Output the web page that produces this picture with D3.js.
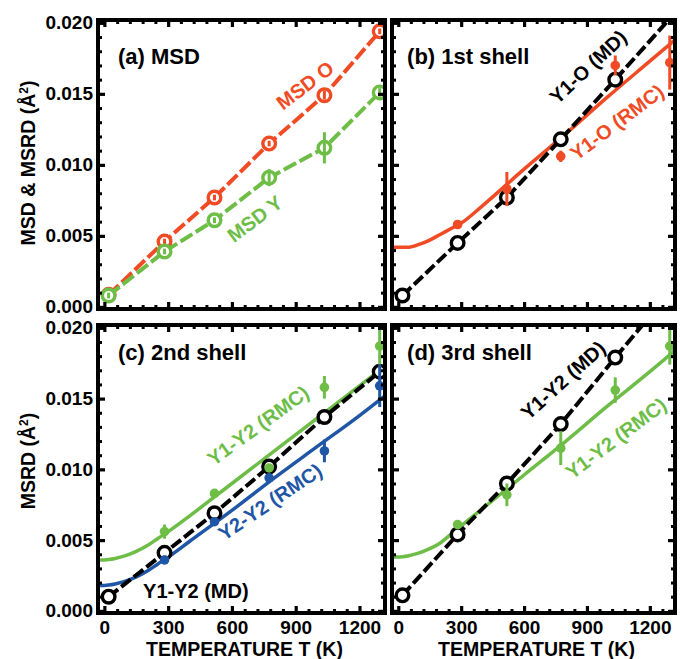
<!DOCTYPE html>
<html>
<head>
<meta charset="utf-8">
<script src="https://cdn.jsdelivr.net/npm/d3@7"></script>
<style>
  body { margin: 0; background: #fff; }
  svg { font-family: "Liberation Sans", Arial, sans-serif; font-weight: bold; }
</style>
</head>
<body>
<svg id="chart" width="680" height="659"></svg>
<script>
// temperatures of the simulation / RMC points (K)
const temps = [20, 283, 518, 775, 1035, 1295];
const rmcTemps = [283, 518, 775, 1035, 1295];

// (a) MSD
const msdO = [0.00085, 0.0046, 0.0077, 0.0115, 0.0149, 0.0194];
const msdOErr = [0.0002, 0.0002, 0.0002, 0.0002, 0.0003, 0.0002];
const msdY = [0.0008, 0.0039, 0.0061, 0.0091, 0.0112, 0.0151];
const msdYErr = [0.0002, 0.0002, 0.0002, 0.0006, 0.0011, 0.0003];

// (b) 1st shell
const y1oMD = [0.0008, 0.0045, 0.0077, 0.0118, 0.0160, 0.0203];
const y1oRMC = [0.0058, 0.0083, 0.0106, 0.0170, 0.0172];
const y1oRMCErr = [0.0002, 0.0012, 0.0004, 0.0007, 0.0019];

// (c) 2nd shell
const y1y2MD2 = [0.0010, 0.0041, 0.0069, 0.0102, 0.0137, 0.0169];
const y1y2RMC2 = [0.0056, 0.0083, 0.0101, 0.0158, 0.0187];
const y1y2RMC2Err = [0.0005, 0.0002, 0.0002, 0.0008, 0.0013];
const y2y2RMC2 = [0.0036, 0.0063, 0.0094, 0.0113, 0.0159];
const y2y2RMC2Err = [0.0003, 0.0002, 0.0002, 0.0008, 0.0015];

// (d) 3rd shell
const y1y2MD3 = [0.0011, 0.0054, 0.0090, 0.0132, 0.0179, 0.0225];
const y1y2RMC3 = [0.0061, 0.0082, 0.0115, 0.0156, 0.0187];
const y1y2RMC3Err = [0.0002, 0.0008, 0.0012, 0.0009, 0.0013];

// fitted RMC curves
const fitTemps = [-30, 0, 50, 100, 150, 200, 250, 300, 400, 600, 800, 1000, 1200, 1320];
const fitY1O = [0.0042, 0.0042, 0.0042, 0.0044, 0.0047, 0.0051, 0.0055, 0.0059, 0.0071, 0.0097, 0.0122, 0.0148, 0.0173, 0.0188];
const fitY1Y2c = [0.0036, 0.0036, 0.0037, 0.0039, 0.0042, 0.0046, 0.0051, 0.0056, 0.0067, 0.0090, 0.0113, 0.0136, 0.0159, 0.0173];
const fitY2Y2c = [0.0018, 0.0018, 0.0019, 0.0021, 0.0024, 0.0028, 0.0033, 0.0038, 0.0049, 0.0071, 0.0094, 0.0116, 0.0138, 0.0152];
const fitY1Y2d = [0.0038, 0.0038, 0.0039, 0.0041, 0.0044, 0.0048, 0.0054, 0.0060, 0.0072, 0.0096, 0.0120, 0.0145, 0.0169, 0.0184];

const xTicks = [0, 300, 600, 900, 1200];
const yTicks = [0, 0.005, 0.01, 0.015, 0.02];

const RED = "#f04b24", GREEN = "#6dbd47", BLUE = "#1f56a6", BLACK = "#000";
const FONT = '"Liberation Sans", Arial, sans-serif';

const svg = d3.select("#chart");

const panels = [
  {
    id: "a", x0: 98, x1: 385, y0: 20, y1: 309, yLabels: true, xLabels: false,
    title: "(a) MSD", titlePos: [64, 0.0171],
    dashed: [
      { v: msdO, err: msdOErr, color: RED },
      { v: msdY, err: msdYErr, color: GREEN },
    ],
    curves: [], dots: [],
    notes: [
      { text: "MSD O", color: RED, at: [944, 0.0156], rot: -37 },
      { text: "MSD Y", color: GREEN, at: [708, 0.0062], rot: -37 },
    ],
  },
  {
    id: "b", x0: 392, x1: 675, y0: 20, y1: 309, yLabels: false, xLabels: false,
    title: "(b) 1st shell", titlePos: [42, 0.0171],
    dashed: [{ v: y1oMD, err: null, color: BLACK }],
    curves: [{ v: fitY1O, color: RED }],
    dots: [{ v: y1oRMC, err: y1oRMCErr, color: RED }],
    notes: [
      { text: "Y1-O (MD)", color: BLACK, at: [905, 0.0169], rot: -43 },
      { text: "Y1-O (RMC)", color: RED, at: [1043, 0.0130], rot: -37 },
    ],
  },
  {
    id: "c", x0: 98, x1: 385, y0: 325, y1: 613, yLabels: true, xLabels: true,
    title: "(c) 2nd shell", titlePos: [64, 0.0177],
    dashed: [{ v: y1y2MD2, err: null, color: BLACK }],
    curves: [{ v: fitY1Y2c, color: GREEN }, { v: fitY2Y2c, color: BLUE }],
    dots: [
      { v: y1y2RMC2, err: y1y2RMC2Err, color: GREEN },
      { v: y2y2RMC2, err: y2y2RMC2Err, color: BLUE },
    ],
    notes: [
      { text: "Y1-Y2 (RMC)", color: GREEN, at: [723, 0.0131], rot: -36 },
      { text: "Y2-Y2 (RMC)", color: BLUE, at: [779, 0.0077], rot: -34 },
      { text: "Y1-Y2 (MD)", color: BLACK, at: [182, 0.0009], rot: 0, start: true },
    ],
  },
  {
    id: "d", x0: 392, x1: 675, y0: 325, y1: 613, yLabels: false, xLabels: true,
    title: "(d) 3rd shell", titlePos: [42, 0.0177],
    dashed: [{ v: y1y2MD3, err: null, color: BLACK }],
    curves: [{ v: fitY1Y2d, color: GREEN }],
    dots: [{ v: y1y2RMC3, err: y1y2RMC3Err, color: GREEN }],
    notes: [
      { text: "Y1-Y2 (MD)", color: BLACK, at: [786, 0.0163], rot: -42 },
      { text: "Y1-Y2 (RMC)", color: GREEN, at: [1038, 0.0122], rot: -37 },
    ],
  },
];

const defs = svg.append("defs");

panels.forEach((p) => {
  const x = d3.scaleLinear().domain([-30, 1320]).range([p.x0, p.x1]);
  const y = d3.scaleLinear().domain([-0.00015, 0.0202]).range([p.y1, p.y0]);

  defs.append("clipPath").attr("id", "clip-" + p.id)
    .append("rect")
    .attr("x", p.x0).attr("y", p.y0)
    .attr("width", p.x1 - p.x0).attr("height", p.y1 - p.y0);

  const g = svg.append("g");
  const plot = g.append("g").attr("clip-path", `url(#clip-${p.id})`);

  const line = d3.line().x((d) => x(d[0])).y((d) => y(d[1]));
  const smooth = d3.line().x((d) => x(d[0])).y((d) => y(d[1])).curve(d3.curveMonotoneX);

  // RMC fit curves
  p.curves.forEach((c) => {
    plot.append("path")
      .datum(fitTemps.map((t, i) => [t, c.v[i]]))
      .attr("fill", "none")
      .attr("stroke", c.color)
      .attr("stroke-width", 3.5)
      .attr("d", smooth);
  });

  // dashed lines with open circles
  p.dashed.forEach((s) => {
    const pts = temps.map((t, i) => [t, s.v[i], s.err ? s.err[i] : 0]);
    plot.append("path")
      .datum(pts)
      .attr("fill", "none")
      .attr("stroke", s.color)
      .attr("stroke-width", 4)
      .attr("stroke-dasharray", s.color === BLACK ? "12,4" : "14,4")
      .attr("d", line);
    const inside = pts.filter((d) => d[1] <= 0.0200);
    plot.selectAll(null).data(inside).join("circle")
      .attr("cx", (d) => x(d[0]))
      .attr("cy", (d) => y(d[1]))
      .attr("r", 6.3)
      .attr("fill", "#fff")
      .attr("stroke", s.color)
      .attr("stroke-width", 3.4);
    plot.selectAll(null).data(inside.filter((d) => d[2] > 0)).join("line")
      .attr("x1", (d) => x(d[0])).attr("x2", (d) => x(d[0]))
      .attr("y1", (d) => y(d[1] - d[2])).attr("y2", (d) => y(d[1] + d[2]))
      .attr("stroke", s.color)
      .attr("stroke-width", 3);
  });

  // RMC points with error bars
  p.dots.forEach((s) => {
    const pts = rmcTemps.map((t, i) => [t, s.v[i], s.err[i]]);
    plot.selectAll(null).data(pts).join("line")
      .attr("x1", (d) => x(d[0])).attr("x2", (d) => x(d[0]))
      .attr("y1", (d) => y(d[1] - d[2])).attr("y2", (d) => y(d[1] + d[2]))
      .attr("stroke", s.color)
      .attr("stroke-width", 3);
    plot.selectAll(null).data(pts).join("circle")
      .attr("cx", (d) => x(d[0]))
      .attr("cy", (d) => y(d[1]))
      .attr("r", 4.8)
      .attr("fill", s.color);
  });

  // inward ticks on all four sides
  const minorX = d3.range(0, 1321, 60).filter((t) => t % 300 !== 0);
  const minorY = d3.range(0, 21).map((i) => i / 1000).filter((v, i) => i % 5 !== 0);
  const tickAxes = [
    [d3.axisBottom(x), `translate(0,${p.y1})`, xTicks, minorX],
    [d3.axisTop(x), `translate(0,${p.y0})`, xTicks, minorX],
    [d3.axisLeft(y), `translate(${p.x0},0)`, yTicks, minorY],
    [d3.axisRight(y), `translate(${p.x1},0)`, yTicks, minorY],
  ];
  tickAxes.forEach(([ax, tr, maj, min]) => {
    g.append("g").attr("transform", tr)
      .call(ax.tickValues(maj).tickSize(-7).tickFormat(""))
      .call((a) => a.select(".domain").remove())
      .call((a) => a.selectAll("line").attr("stroke", "#000").attr("stroke-width", 3.2));
    g.append("g").attr("transform", tr)
      .call(ax.tickValues(min).tickSize(-4).tickFormat(""))
      .call((a) => a.select(".domain").remove())
      .call((a) => a.selectAll("line").attr("stroke", "#000").attr("stroke-width", 3));
  });

  // frame
  g.append("rect")
    .attr("x", p.x0).attr("y", p.y0)
    .attr("width", p.x1 - p.x0).attr("height", p.y1 - p.y0)
    .attr("fill", "none")
    .attr("stroke", "#000")
    .attr("stroke-width", 4);

  if (p.yLabels) {
    g.append("g").attr("transform", `translate(${p.x0},0)`)
      .call(d3.axisLeft(y).tickValues(yTicks).tickFormat(d3.format(".3f")).tickSize(0).tickPadding(5))
      .call((a) => a.select(".domain").remove())
      .call((a) => a.selectAll("text")
        .attr("font-size", 19).attr("font-weight", "bold").attr("fill", "#000")
        .attr("font-family", FONT));
  }
  if (p.xLabels) {
    g.append("g").attr("transform", `translate(0,${p.y1})`)
      .call(d3.axisBottom(x).tickValues(xTicks).tickFormat(d3.format("d")).tickSize(0).tickPadding(8))
      .call((a) => a.select(".domain").remove())
      .call((a) => a.selectAll("text")
        .attr("font-size", 19).attr("font-weight", "bold").attr("fill", "#000")
        .attr("font-family", FONT));
    g.append("text")
      .attr("x", (p.x0 + p.x1) / 2 + 3)
      .attr("y", 656)
      .attr("text-anchor", "middle")
      .attr("font-size", 19.5)
      .text("TEMPERATURE T (K)");
  }

  // panel title
  g.append("text")
    .attr("x", x(p.titlePos[0]))
    .attr("y", y(p.titlePos[1]))
    .attr("font-size", 22)
    .text(p.title);

  // series annotations
  p.notes.forEach((n) => {
    const px = x(n.at[0]), py = y(n.at[1]);
    g.append("text")
      .attr("transform", `translate(${px},${py}) rotate(${n.rot})`)
      .attr("text-anchor", n.start ? "start" : "middle")
      .attr("dy", n.start ? 0 : "0.35em")
      .attr("fill", n.color)
      .attr("font-size", 20)
      .text(n.text);
  });
});

// y-axis titles
function yTitle(cx, cy, main) {
  const t = svg.append("text")
    .attr("transform", `translate(${cx},${cy}) rotate(-90)`)
    .attr("text-anchor", "middle")
    .attr("font-size", 19.5);
  t.append("tspan").text(main + " (Å");
  t.append("tspan").attr("font-size", 12).attr("dy", -7).text("2");
  t.append("tspan").attr("dy", 7).text(")");
}
yTitle(35, 163, "MSD & MSRD");
yTitle(35, 461, "MSRD");
</script>
</body>
</html>
